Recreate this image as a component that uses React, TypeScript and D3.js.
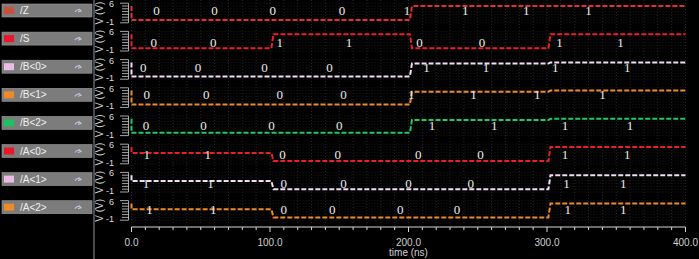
import React from "react";
import * as d3 from "d3";

// ---- data ----
const SIGNAL_NAMES = ["/Z", "/S", "/B<0>", "/B<1>", "/B<2>", "/A<0>", "/A<1>", "/A<2>"];
const Y_LABEL = "V (V)";
const EDGE_TIMES = [0, 101, 201, 301]; // ns, start of each interval
const END_TIME = 400;
const START_V = 5; // initial spike level at t=0
// voltage per interval for each signal
const Z_V = [0, 0, 5, 5];
const S_V = [0, 5, 0, 5];
const B0_V = [0, 0, 4.6, 5];
const B1_V = [0, 0, 4.6, 5];
const B2_V = [0, 0, 4.6, 5];
const A0_V = [2.9, 0, 0, 5];
const A1_V = [2.9, 0, 0, 5];
const A2_V = [2.9, 0, 0, 5];
const SIGNAL_V = [Z_V, S_V, B0_V, B1_V, B2_V, A0_V, A1_V, A2_V];
// logic value annotations: [time ns, text]
const Z_LBL: [number, string][] = [[18, "0"], [60, "0"], [102, "0"], [152, "0"], [199, "1"], [241, "1"], [285, "1"], [330, "1"]];
const S_LBL: [number, string][] = [[16, "0"], [59, "0"], [107, "1"], [157, "1"], [208, "0"], [253, "0"], [309, "1"], [353, "1"]];
const B0_LBL: [number, string][] = [[8.5, "0"], [48, "0"], [96, "0"], [143, "0"], [213, "1"], [256, "1"], [306, "1"], [358, "1"]];
const B1_LBL: [number, string][] = [[11, "0"], [54, "0"], [107, "0"], [153, "0"], [202, "1"], [247, "1"], [293, "1"], [340, "1"]];
const B2_LBL: [number, string][] = [[10.5, "0"], [52, "0"], [101, "0"], [150, "0"], [217, "1"], [262, "1"], [313, "1"], [360, "1"]];
const A0_LBL: [number, string][] = [[11, "1"], [55, "1"], [109, "0"], [149, "0"], [207, "0"], [252, "0"], [313, "1"], [358, "1"]];
const A1_LBL: [number, string][] = [[10.5, "1"], [57, "1"], [110, "0"], [153, "0"], [200, "0"], [245, "0"], [314, "1"], [355, "1"]];
const A2_LBL: [number, string][] = [[13, "1"], [59, "1"], [110, "0"], [145, "0"], [194, "0"], [235, "0"], [315, "1"], [355, "1"]];
const SIGNAL_LBL = [Z_LBL, S_LBL, B0_LBL, B1_LBL, B2_LBL, A0_LBL, A1_LBL, A2_LBL];
const TIME_TICKS = [0, 100, 200, 300, 400];
const V_TICKS = [6, -1];

// ---- style ----
const COLORS = ["#e0303a", "#e8202c", "#f4dcf4", "#f08a28", "#22c864", "#e8202c", "#f4dcf4", "#f08a28"];
const SWATCH = ["#c8503c", "#e8182a", "#e8bce4", "#f08a28", "#1ec060", "#e8182a", "#e8bce4", "#f08a28"];
const LABEL_DY = [10, 13.5, 10.5, 9.5, 12, 12.5, 13.8, 12];

const W = 699, H = 259;
const ROW_H = 28.2;
const X0 = 131.5, X1 = 685.5;
const AXIS_Y = 227;

export default function App() {
  const x = d3.scaleLinear().domain([0, END_TIME]).range([X0, X1]);
  const yRow = (i: number) => d3.scaleLinear().domain([0, 5]).range([i * ROW_H + 20, i * ROW_H + 6]);
  const line = d3.line<[number, number]>().x(d => d[0]).y(d => d[1]);
  const minor = d3.range(0, END_TIME + 1, 10);

  return (
    <svg width={W} height={H} style={{ position: "absolute", left: 0, top: 0, background: "#000" }}>
      <rect width={W} height={H} fill="#000" />
      {/* grid */}
      {minor.map(t => (
        <line key={"g" + t} x1={x(t)} x2={x(t)} y1={0} y2={AXIS_Y - 2} stroke="#262626" strokeWidth={1} strokeDasharray="1 2" />
      ))}
      {SIGNAL_NAMES.map((_, i) => {
        const y = yRow(i);
        return d3.range(-1, 7).map(v => (
          <line key={"h" + i + v} x1={X0} x2={X1} y1={y(v)} y2={y(v)} stroke="#1c1c1c" strokeWidth={1} strokeDasharray="1 2" />
        ));
      })}
      {/* left panel */}
      <rect x={93} y={0} width={2} height={H} fill="#4a4a4a" />
      {SIGNAL_NAMES.map((name, i) => {
        const by = 4 + i * 28.1;
        return (
          <g key={name}>
            <rect x={2} y={by} width={90} height={13} fill="#7c7c7c" stroke="#9a9a9a" strokeWidth={0.6} />
            <rect x={4} y={by + 3} width={10} height={7} fill={SWATCH[i]} />
            <text x={20} y={by + 10} fontFamily="Liberation Sans, Arial, sans-serif" fontSize={10} fill="#f0f0f0">{name}</text>
            <path d={`M75 ${by + 8} q3 -4 6 -1 M79 ${by + 5} l2 2 l-3 1`} stroke="#b8c4dc" strokeWidth={1.2} fill="none" />
          </g>
        );
      })}
      {/* y axes */}
      {SIGNAL_NAMES.map((_, i) => {
        const y = yRow(i);
        const cy = i * ROW_H + 13;
        return (
          <g key={"ya" + i}>
            <text transform={`translate(103, ${cy}) rotate(-90)`} textAnchor="middle" fontFamily="Liberation Sans, Arial, sans-serif" fontSize={10} fill="#cfcfcf">{Y_LABEL}</text>
            {V_TICKS.map(v => (
              <text key={v} x={114} y={(v > 0 ? y(v) + 1 : y(v) - 1) + 3} textAnchor="end" fontFamily="Liberation Sans, Arial, sans-serif" fontSize={9} fill="#dcdcdc">{v}</text>
            ))}
            {d3.range(-1, 7).map(v => (
              <line key={"t" + v} x1={v === 6 || v === -1 ? 120 : 122} x2={128.5} y1={y(v)} y2={y(v)} stroke="#d0d0d0" strokeWidth={0.8} />
            ))}
            <line x1={128.5} x2={128.5} y1={y(6)} y2={y(-1)} stroke="#d0d0d0" strokeWidth={0.8} />
          </g>
        );
      })}
      {/* waveforms */}
      {SIGNAL_V.map((vals, i) => {
        const y = yRow(i);
        const pts: [number, number][] = [[x(0), y(START_V)], [x(0), y(vals[0])]];
        vals.forEach((v, k) => {
          if (k > 0) pts.push([x(EDGE_TIMES[k]), y(vals[k - 1])], [x(EDGE_TIMES[k] + 1.5), y(v)]);
        });
        pts.push([x(END_TIME), y(vals[vals.length - 1])]);
        return (
          <path key={"w" + i} d={line(pts) || ""} fill="none" stroke={COLORS[i]} strokeWidth={2} strokeDasharray="5 2" />
        );
      })}
      {/* value labels */}
      {SIGNAL_LBL.map((lbls, i) =>
        lbls.map(([t, s], k) => (
          <text key={"l" + i + "_" + k} x={x(t)} y={i * ROW_H + LABEL_DY[i] + 5} textAnchor="middle" fontFamily="Liberation Serif, DejaVu Serif, serif" fontSize={13} fill="#ececec">{s}</text>
        ))
      )}
      {/* time axis */}
      <line x1={X0} x2={X1} y1={AXIS_Y} y2={AXIS_Y} stroke="#d8d8d8" strokeWidth={1} />
      {minor.map(t => (
        <line key={"m" + t} x1={x(t)} x2={x(t)} y1={AXIS_Y} y2={AXIS_Y + (t % 100 === 0 ? 5 : 3)} stroke="#d8d8d8" strokeWidth={1} />
      ))}
      {TIME_TICKS.map(t => (
        <text key={"tt" + t} x={x(t)} y={246} textAnchor="middle" fontFamily="Liberation Sans, Arial, sans-serif" fontSize={10} fill="#d0d0d0">{t.toFixed(1)}</text>
      ))}
      <text x={(X0 + X1) / 2} y={256} textAnchor="middle" fontFamily="Liberation Sans, Arial, sans-serif" fontSize={10} fill="#d0d0d0">time (ns)</text>
    </svg>
  );
}
